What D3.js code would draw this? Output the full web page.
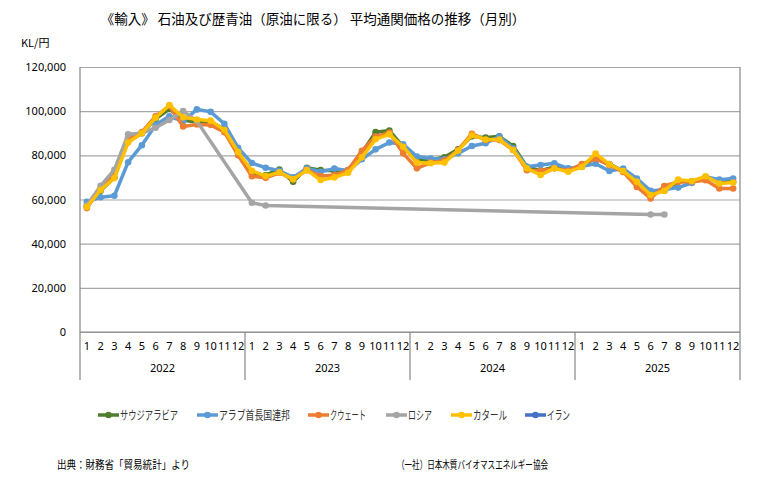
<!DOCTYPE html>
<html>
<head>
<meta charset="utf-8">
<script src="https://cdn.jsdelivr.net/npm/d3@7"></script>
<style>
  body { margin: 0; background: #fff; }
  svg { font-family: "Noto Sans CJK JP", "Noto Sans", sans-serif; }
</style>
</head>
<body>
<div id="chart"></div>
<script>
// monthly average customs price of imported crude oil, yen per KL
const years = ["2022", "2023", "2024", "2025"];
const monthLabels = ["1", "2", "3", "4", "5", "6", "7", "8", "9", "10", "11", "12"];
const yTicks = [0, 20000, 40000, 60000, 80000, 100000, 120000];

const saudi = [
  57000, 64000, 70000, 86500, 90000, 96500, 101000, 96000, 95000, 95000, 92000, 81000,
  71800, 71000, 73600, 68000, 74400, 73300, 73000, 73300, 81200, 90500, 91200, 83900,
  77900, 77900, 79100, 82700, 88600, 88000, 88600, 84200, 74800, 73000, 74800, 73600,
  74800, 79000, 76000, 73000, 68500, 63000, 64000, 68000, 68200, 70000, 68000, 68000
];
const uae = [
  59000, 61000, 61700, 76900, 84600, 93800, 97700, 95400, 100800, 99700, 94300, 83400,
  76500, 74400, 73000, 70000, 74100, 72600, 74000, 73000, 78200, 82700, 85800, 85000,
  79500, 78600, 78200, 80900, 84200, 85500, 88500, 83200, 74800, 75600, 76400, 74100,
  75000, 76200, 72900, 74000, 69500, 63900, 64500, 65400, 67500, 70300, 69000, 69500
];
const kuwait = [
  56100, 65000, 72000, 88000, 90500, 97700, 102300, 93100, 94000, 93800, 90500, 80000,
  70500, 69800, 72100, 69100, 73300, 70600, 71000, 73300, 82100, 88500, 90300, 80900,
  74100, 76700, 77600, 82400, 89800, 86900, 86900, 82400, 73300, 73000, 74100, 73000,
  76000, 78500, 75500, 72500, 65700, 60500, 66100, 68000, 68000, 68700, 65000, 65000
];
const russia = [
  57400, 66200, 73500, 89500, 90000, 92500, 96000, 100000, 95500, null, null, null,
  58500, 57300, null, null, null, null, null, null, null, null, null, null,
  null, null, null, null, null, null, null, null, null, null, null, null,
  null, null, null, null, null, 53200, 53200, null, null, null, null, null
];
const qatar = [
  56600, 64300, 69700, 85800, 90000, 97000, 102800, 97200, 96200, 95700, 91500, 81500,
  73000, 70600, 72300, 69200, 73300, 68800, 70000, 72100, 79100, 87300, 89500, 83900,
  76700, 76400, 76700, 82100, 89100, 87200, 87200, 82400, 74100, 71100, 74100, 72600,
  74700, 80800, 75900, 72900, 68000, 62000, 63900, 69000, 68400, 70500, 67200, 67700
];
const iran = new Array(48).fill(null);

const seriesNames = ["サウジアラビア", "アラブ首長国連邦", "クウェート", "ロシア", "カタール", "イラン"];
const seriesValues = [saudi, uae, kuwait, russia, qatar, iran];
const seriesColors = ["#4f7f2c", "#5b9bd5", "#ed7d31", "#a5a5a5", "#ffc000", "#4472c4"];

const width = 777, height = 482;
const plotLeft = 80, plotRight = 740, plotTop = 67, plotBottom = 332, catBottom = 380;

const svg = d3.select("#chart").append("svg")
  .attr("width", width)
  .attr("height", height);

const periods = d3.range(years.length * 12);
const x = d3.scaleBand().domain(periods).range([plotLeft, plotRight]).padding(0);
const xYear = d3.scaleBand().domain(years).range([plotLeft, plotRight]).padding(0);
const y = d3.scaleLinear().domain([0, 120000]).range([plotBottom, plotTop]);
const cx = (i) => x(i) + x.bandwidth() / 2;

// title
svg.append("text")
  .attr("x", 313).attr("y", 24)
  .attr("text-anchor", "middle")
  .style("font-size", "13.5px")
  .text("《輸入》 石油及び歴青油（原油に限る） 平均通関価格の推移（月別）");

svg.append("text")
  .attr("x", 21).attr("y", 47)
  .style("font-size", "11px")
  .text("KL/円");

// y grid + labels
const yAxis = svg.append("g")
  .attr("transform", `translate(${plotLeft},0)`)
  .call(d3.axisLeft(y).tickValues(yTicks).tickSize(-(plotRight - plotLeft)).tickPadding(14)
    .tickFormat(d3.format(",")));
yAxis.select(".domain").remove();
yAxis.selectAll(".tick line").attr("stroke", "#a6a6a6").attr("stroke-width", 1.2);
yAxis.selectAll(".tick text")
  .style("font-family", "'Noto Sans', sans-serif")
  .style("font-size", "11px")
  .attr("fill", "#000");

// frame
[plotLeft, plotRight].forEach((fx) => {
  svg.append("line").attr("x1", fx).attr("x2", fx).attr("y1", plotTop).attr("y2", catBottom)
    .attr("stroke", "#868686").attr("stroke-width", 1.2);
});
svg.append("line").attr("x1", plotLeft).attr("x2", plotRight).attr("y1", plotBottom).attr("y2", plotBottom)
  .attr("stroke", "#868686").attr("stroke-width", 1.2);

// month labels
const xAxis = svg.append("g")
  .attr("transform", `translate(0,${plotBottom})`)
  .call(d3.axisBottom(x).tickSize(0).tickPadding(10)
    .tickFormat((d) => monthLabels[d % 12]));
xAxis.select(".domain").remove();
xAxis.selectAll(".tick text")
  .style("font-family", "'Noto Sans', sans-serif")
  .style("font-size", "11px")
  .attr("fill", "#000");

// year labels and separators
svg.append("g").selectAll("line")
  .data(years.slice(1))
  .join("line")
  .attr("x1", (d) => xYear(d))
  .attr("x2", (d) => xYear(d))
  .attr("y1", plotBottom).attr("y2", catBottom)
  .attr("stroke", "#868686").attr("stroke-width", 1.2);

svg.append("g").selectAll("text")
  .data(years)
  .join("text")
  .attr("x", (d) => xYear(d) + xYear.bandwidth() / 2)
  .attr("y", 372)
  .attr("text-anchor", "middle")
  .style("font-family", "'Noto Sans', sans-serif")
  .style("font-size", "11px")
  .text((d) => d);

// series
const line = d3.line()
  .x((d) => cx(d.i))
  .y((d) => y(d.v));

seriesValues.forEach((vals, s) => {
  const pts = vals.map((v, i) => ({ i, v })).filter((d) => d.v != null);
  const g = svg.append("g");
  g.append("path")
    .datum(pts)
    .attr("d", line)
    .attr("fill", "none")
    .attr("stroke", seriesColors[s])
    .attr("stroke-width", 3.5)
    .attr("stroke-linejoin", "round")
    .attr("stroke-linecap", "round");
  g.selectAll("circle")
    .data(pts)
    .join("circle")
    .attr("cx", (d) => cx(d.i))
    .attr("cy", (d) => y(d.v))
    .attr("r", 3.3)
    .attr("fill", seriesColors[s]);
});

// legend
const legendX = [98, 197, 308, 386, 451, 525];
const legendTextW = [58, 71, 36, 24, 34, 23];
const legend = svg.append("g").attr("transform", "translate(0,415)");
seriesNames.forEach((name, s) => {
  const item = legend.append("g").attr("transform", `translate(${legendX[s]},0)`);
  item.append("line")
    .attr("x1", 0).attr("x2", 21).attr("y1", 0).attr("y2", 0)
    .attr("stroke", seriesColors[s]).attr("stroke-width", 3.5);
  item.append("circle").attr("cx", 10.5).attr("cy", 0).attr("r", 3.3)
    .attr("fill", seriesColors[s]);
  item.append("text")
    .attr("x", 22).attr("y", 4.5)
    .attr("textLength", legendTextW[s])
    .attr("lengthAdjust", "spacingAndGlyphs")
    .style("font-size", "12px")
    .attr("fill", "#333")
    .text(name);
});

// footer
svg.append("text")
  .attr("x", 57).attr("y", 469)
  .attr("textLength", 133)
  .attr("lengthAdjust", "spacingAndGlyphs")
  .style("font-size", "11px")
  .text("出典：財務省「貿易統計」より");
svg.append("text")
  .attr("x", 397).attr("y", 469)
  .attr("textLength", 151)
  .attr("lengthAdjust", "spacingAndGlyphs")
  .style("font-size", "11px")
  .text("（一社）日本木質バイオマスエネルギー協会");
</script>
</body>
</html>
